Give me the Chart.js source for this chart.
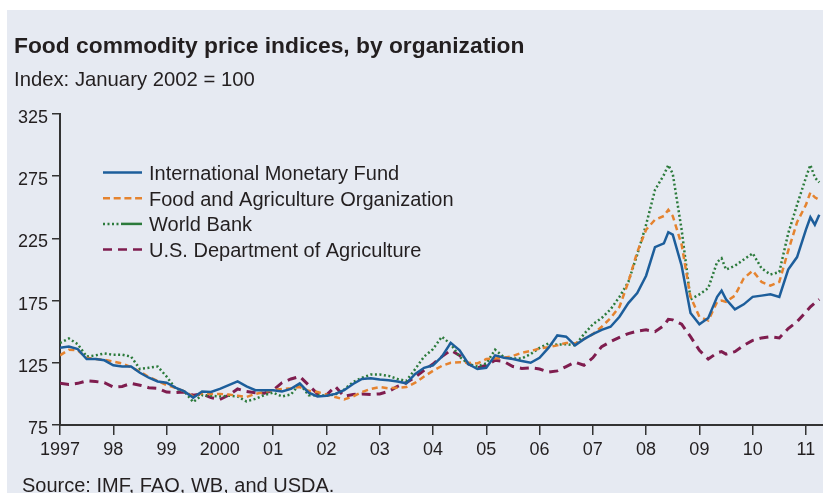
<!DOCTYPE html>
<html lang="en">
<head>
<meta charset="UTF-8">
<title>Food commodity price indices, by organization</title>
<script src="https://cdn.jsdelivr.net/npm/chart.js@4.4.1/dist/chart.umd.min.js"></script>
<style>
  html, body { margin: 0; padding: 0; background: #ffffff; }
  #wrap { position: relative; width: 823px; height: 493px; overflow: hidden; }
  #panel { position: absolute; left: 7px; top: 10px; right: 0; bottom: 0; background: #e6eaf2; }
  #chart { position: absolute; left: 0; top: 0; }
  .txt { position: absolute; font-family: "Liberation Sans", Arial, sans-serif; color: #231f20; white-space: nowrap; line-height: 1; }
  #title { left: 14px; top: 34px; font-size: 22.8px; font-weight: bold; }
  #subtitle { left: 14px; top: 69px; font-size: 20.3px; }
  #source { left: 22px; top: 475px; font-size: 20px; }
</style>
</head>
<body>
<div id="wrap">
  <div id="panel"></div>
  <canvas id="chart" width="823" height="493"></canvas>
  <div class="txt" id="title">Food commodity price indices, by organization</div>
  <div class="txt" id="subtitle">Index: January 2002 = 100</div>
  <div class="txt" id="source">Source: IMF, FAO, WB, and USDA.</div>
</div>
<script>
  // sample months (roughly every second month, a few extra around the peaks)
  const months = [
    '1997-01', '1997-03', '1997-05', '1997-07', '1997-09', '1997-11',
    '1998-01', '1998-03', '1998-05', '1998-07', '1998-09', '1998-11',
    '1999-01', '1999-03', '1999-05', '1999-07', '1999-09', '1999-11',
    '2000-01', '2000-03', '2000-05', '2000-07', '2000-09', '2000-11',
    '2001-01', '2001-03', '2001-05', '2001-07', '2001-09', '2001-11',
    '2002-01', '2002-03', '2002-05', '2002-07', '2002-09', '2002-11',
    '2003-01', '2003-03', '2003-05', '2003-07', '2003-09', '2003-11',
    '2004-01', '2004-03', '2004-05', '2004-07', '2004-09', '2004-11',
    '2005-01', '2005-03', '2005-05', '2005-07', '2005-09', '2005-11',
    '2006-01', '2006-03', '2006-05', '2006-07', '2006-09', '2006-11',
    '2007-01', '2007-03', '2007-05', '2007-07', '2007-09', '2007-11',
    '2008-01', '2008-03', '2008-05', '2008-06', '2008-07', '2008-09', '2008-11',
    '2009-01', '2009-03', '2009-05', '2009-06', '2009-07', '2009-09', '2009-11',
    '2010-01', '2010-03', '2010-05', '2010-07', '2010-09', '2010-11',
    '2011-01', '2011-02', '2011-03', '2011-04'
  ];

  const imf = [
    137, 138, 136, 128, 128, 127,
    123, 122, 122, 117, 113, 110,
    109, 105, 102, 97, 102, 101.5,
    104, 107, 110, 106, 103, 103,
    103, 102, 104, 108.5, 101, 98,
    98.5, 100, 103, 108, 112, 112.5,
    111.5, 111, 110, 108.5, 116, 121,
    123, 130, 141, 135, 124, 120,
    121, 131, 129, 128, 126.5, 125,
    129, 137, 147, 146, 139, 144,
    148, 151.5, 154, 162, 173, 181,
    195, 218, 221, 230, 228, 203, 165,
    156, 161, 178, 183, 176, 168, 172,
    178, 179, 180, 178, 200, 210,
    232, 242, 236, 244
  ];

  const fao = [
    131, 135.5, 135, 129, 128, 127.5,
    126, 124.5, 121.5, 118, 113.5, 110.5,
    107, 105, 102, 98, 100.5, 100,
    100, 99.5, 98.5, 97.5, 100, 101.5,
    103, 104, 104.5, 105.5, 102.5, 101.5,
    99.5, 97.5, 95.5, 98, 101.5, 104,
    105.5, 104.5, 105, 105.5, 109, 114,
    118.5, 122.5, 125, 125.5, 125, 124.5,
    128, 128.5, 129, 130.5, 133, 134.5,
    136.5, 137.5, 139, 141, 140.5, 144,
    148, 154, 161, 170, 190, 214,
    232, 240, 243, 248, 243, 220, 178,
    162, 159, 174, 175, 174, 179, 193,
    199, 190, 187, 190, 215, 238,
    252, 262, 258, 256
  ];

  const wb = [
    141, 144.5, 140, 130, 131, 132.5,
    131.5, 131.5, 130, 120, 121, 122,
    114, 104.5, 102, 93.5, 99, 98.5,
    98, 98.5, 98, 94, 96, 99,
    101, 98, 99.5, 108, 99, 99,
    98.5, 99.5, 103.5, 109.5, 113, 115.5,
    115.5, 114.5, 112, 110.5, 120, 130,
    136, 146, 140, 130, 124, 122,
    124.5, 135.5, 129.5, 128.5, 128.5, 132,
    137, 140.5, 139.5, 140, 139, 148,
    156, 161, 168, 178, 190, 212,
    236, 264, 276, 284, 277, 232, 176,
    180, 185, 206, 209, 200, 203, 208,
    213, 201, 196, 198, 229, 252,
    274, 284, 274, 270
  ];

  const usda = [
    108.5, 107.5, 108.5, 110.5, 110, 109,
    105.5, 106, 108.5, 107, 105, 104.5,
    101.5, 101, 101.5, 99, 100, 97,
    95.5, 99, 104, 102, 101, 100.5,
    103, 109, 112, 114, 107, 100,
    99, 106, 98, 99.5, 100, 99.5,
    100, 102, 106, 109, 113.5, 119,
    124, 130, 135, 131, 124, 121,
    123, 127, 126, 122, 120.5, 121,
    120, 117.5, 118.5, 122, 125.5, 123,
    129, 138, 142, 145.5, 148.5, 150.5,
    151.5, 150, 155, 160, 159.5, 156, 146,
    135, 128, 133, 134, 132, 134, 139,
    143, 145, 146, 145, 152.5, 158,
    166, 170, 173, 176
  ];

  const seriesNames = [
    'International Monetary Fund',
    'Food and Agriculture Organization',
    'World Bank',
    'U.S. Department of Agriculture'
  ];

  const yearTicks = [1997, 1998, 1999, 2000, 2001, 2002, 2003, 2004, 2005, 2006, 2007, 2008, 2009, 2010, 2011];
  const yearLabels = ['1997', '98', '99', '2000', '01', '02', '03', '04', '05', '06', '07', '08', '09', '10', '11'];
  const yTicks = [75, 125, 175, 225, 275, 325];

  // "1997-03" -> 1997.1667
  function toYear(m) {
    const p = m.split('-');
    return Number(p[0]) + (Number(p[1]) - 1) / 12;
  }

  function points(values) {
    return values.map((v, i) => ({ x: toYear(months[i]), y: v }));
  }

  const font = '"Liberation Sans", Arial, sans-serif';
  const ink = '#231f20';

  // legend drawn inside the plot, top left
  const insideLegend = {
    id: 'insideLegend',
    afterDraw(chart) {
      const ctx = chart.ctx;
      const x0 = 103, x1 = 142, tx = 149;
      ctx.save();
      ctx.font = '20px ' + font;
      ctx.fillStyle = ink;
      ctx.textBaseline = 'alphabetic';
      chart.data.datasets.forEach((ds, i) => {
        const base = 180 + i * 25.7;
        const ly = base - 7.5;
        ctx.strokeStyle = ds.borderColor;
        ctx.lineWidth = 2.5;
        ctx.lineCap = 'butt';
        if (i === 2) {
          ctx.setLineDash([2, 2.5]);
          ctx.beginPath(); ctx.moveTo(x0, ly); ctx.lineTo(x0 + 16, ly); ctx.stroke();
          ctx.setLineDash([]);
          ctx.beginPath(); ctx.moveTo(x0 + 18, ly); ctx.lineTo(x1, ly); ctx.stroke();
        } else {
          ctx.setLineDash(ds.legendDash);
          ctx.beginPath(); ctx.moveTo(x0, ly); ctx.lineTo(x1, ly); ctx.stroke();
        }
        ctx.setLineDash([]);
        ctx.fillText(ds.label, tx, base);
      });
      ctx.restore();
    }
  };

  new Chart(document.getElementById('chart'), {
    type: 'line',
    data: {
      datasets: [
        { label: seriesNames[0], data: points(imf), borderColor: '#1d5e9b', borderWidth: 2.5, borderDash: [], legendDash: [] },
        { label: seriesNames[1], data: points(fao), borderColor: '#e5832f', borderWidth: 2.5, borderDash: [6, 4], legendDash: [7, 3.7] },
        { label: seriesNames[2], data: points(wb), borderColor: '#2b7a3b', borderWidth: 2.5, borderDash: [2, 2.5], legendDash: [2, 2.5] },
        { label: seriesNames[3], data: points(usda), borderColor: '#7f1d4f', borderWidth: 3, borderDash: [9, 6], legendDash: [9, 6] }
      ]
    },
    options: {
      responsive: false,
      animation: false,
      devicePixelRatio: 1,
      layout: { padding: { top: 114, right: 0, bottom: 18, left: 0 } },
      elements: { point: { radius: 0 }, line: { tension: 0, fill: false } },
      plugins: { legend: { display: false }, tooltip: { enabled: false } },
      scales: {
        x: {
          type: 'linear',
          min: 1997,
          max: 2011.32,
          afterFit: s => { s.height = 50; },
          afterBuildTicks: s => { s.ticks = yearTicks.map(v => ({ value: v })); },
          grid: { drawOnChartArea: false, tickLength: 10, color: '#333333', lineWidth: 1.5 },
          border: { display: true, color: '#333333', width: 2 },
          ticks: {
            autoSkip: false,
            maxRotation: 0,
            padding: 4,
            color: ink,
            font: { family: font, size: 18 },
            callback: v => yearLabels[yearTicks.indexOf(v)]
          }
        },
        y: {
          min: 75,
          max: 325,
          afterFit: s => { s.width = 60; },
          afterBuildTicks: s => { s.ticks = yTicks.map(v => ({ value: v })); },
          grid: { drawOnChartArea: false, tickLength: 8, color: '#333333', lineWidth: 1.5 },
          border: { display: true, color: '#333333', width: 2 },
          ticks: {
            padding: 4,
            labelOffset: 4,
            color: ink,
            font: { family: font, size: 18 }
          }
        }
      }
    },
    plugins: [insideLegend]
  });
</script>
</body>
</html>
